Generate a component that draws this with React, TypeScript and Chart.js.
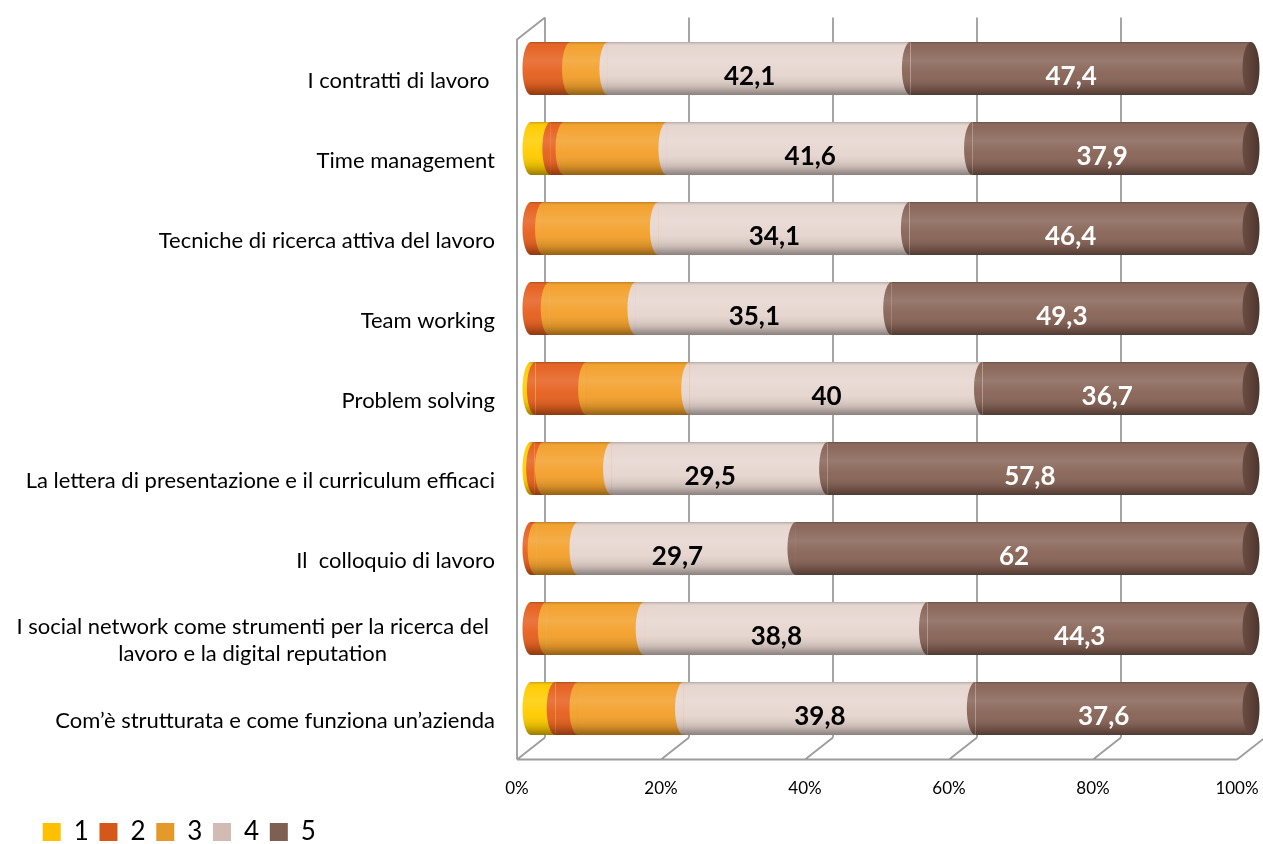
import React, { useEffect, useRef } from "react";
import { Chart, registerables } from "chart.js";

Chart.register(...registerables);

// ---------- data ----------
const categories: (string | string[])[] = [
  "I contratti di lavoro ",
  "Time management",
  "Tecniche di ricerca attiva del lavoro",
  "Team working",
  "Problem solving",
  "La lettera di presentazione e il curriculum efficaci",
  "Il  colloquio di lavoro",
  ["I social network come strumenti per la ricerca del", "lavoro e la digital reputation"],
  "Com’è strutturata e come funziona un’azienda",
];
const seriesNames = ["1", "2", "3", "4", "5"];
const score1 = [0, 2.7, 0, 0, 0.6, 0.5, 0, 0, 3.3];
const score2 = [5.5, 1.8, 1.7, 2.5, 7.0, 1.2, 0.7, 2.1, 3.1];
const score3 = [5.2, 14.0, 15.6, 11.9, 14.1, 9.3, 5.7, 13.4, 14.4];
const score4 = [42.1, 41.6, 34.1, 35.1, 40, 29.5, 29.7, 38.8, 39.8];
const score5 = [47.4, 37.9, 46.4, 49.3, 36.7, 57.8, 62, 44.3, 37.6];
const xTicks = [0, 20, 40, 60, 80, 100];
const labelledSeries = [3, 4];

// ---------- styles ----------
const barColors = ["#FFCC00", "#E6601F", "#F3A02A", "#E6D5CF", "#886457"];
const legendColors = ["#FFC000", "#D5581A", "#E39A2A", "#D1BBB3", "#7F5F52"];
const labelColors: Record<number, string> = { 3: "#000000", 4: "#FFFFFF" };
const FONT = "Lato";
const DX = 14; // 3D depth offset (x)
const DY = 11; // 3D depth offset (y)
const RX = 8.5; // cylinder cap radius

const fmt = (v: number) => String(v).replace(".", ",");

const frame3d = {
  id: "frame3d",
  beforeDatasetsDraw(chart: any) {
    const { ctx, chartArea } = chart;
    const { top, bottom } = chartArea;
    const x = chart.scales.x;
    const p0 = x.getPixelForValue(0);
    const p100 = x.getPixelForValue(100);
    ctx.save();
    ctx.strokeStyle = "#9C9C9C";
    ctx.lineWidth = 1.8;
    ctx.beginPath();
    xTicks.forEach((v) => {
      const p = x.getPixelForValue(v);
      ctx.moveTo(p + DX, top - DY);
      ctx.lineTo(p + DX, bottom - DY);
      ctx.moveTo(p - DX, bottom + DY);
      ctx.lineTo(p + DX, bottom - DY);
    });
    ctx.moveTo(p0 - DX, bottom + DY);
    ctx.lineTo(p100 - DX, bottom + DY);
    ctx.moveTo(p0 - DX, bottom + DY);
    ctx.lineTo(p0 - DX, top + DY);
    ctx.lineTo(p0 + DX, top - DY);
    ctx.stroke();
    ctx.restore();
  },
};

const cylinders = {
  id: "cylinders",
  afterDatasetsDraw(chart: any) {
    const { ctx } = chart;
    const x = chart.scales.x;
    const p0 = x.getPixelForValue(0);
    const p100 = x.getPixelForValue(100);
    const metas = chart.data.datasets.map((_: any, k: number) => chart.getDatasetMeta(k));
    const n = chart.data.labels.length;
    for (let i = 0; i < n; i++) {
      const el0 = metas[0].data[i];
      const yc = el0.y;
      const ry = el0.height / 2;
      ctx.save();
      // curved segment boundaries
      for (let k = 0; k < metas.length; k++) {
        const el = metas[k].data[i];
        const left = Math.min(el.x, el.base);
        const right = Math.max(el.x, el.base);
        if (right - left < 0.3) continue;
        ctx.fillStyle = barColors[k];
        ctx.beginPath();
        ctx.ellipse(left, yc, RX, ry, 0, Math.PI / 2, Math.PI * 1.5);
        ctx.closePath();
        ctx.fill();
      }
      // cylinder shading
      ctx.beginPath();
      ctx.ellipse(p0, yc, RX, ry, 0, Math.PI / 2, Math.PI * 1.5);
      ctx.lineTo(p100, yc - ry);
      ctx.ellipse(p100, yc, RX, ry, 0, -Math.PI / 2, Math.PI / 2);
      ctx.closePath();
      const g = ctx.createLinearGradient(0, yc - ry, 0, yc + ry);
      g.addColorStop(0, "rgba(0,0,0,0.22)");
      g.addColorStop(0.08, "rgba(255,255,255,0.02)");
      g.addColorStop(0.35, "rgba(255,255,255,0.14)");
      g.addColorStop(0.6, "rgba(255,255,255,0.03)");
      g.addColorStop(0.85, "rgba(0,0,0,0.14)");
      g.addColorStop(1, "rgba(0,0,0,0.40)");
      ctx.fillStyle = g;
      ctx.fill();
      // end cap
      ctx.beginPath();
      ctx.ellipse(p100, yc, RX, ry, 0, 0, Math.PI * 2);
      const gc = ctx.createLinearGradient(p100 - RX, 0, p100 + RX, 0);
      gc.addColorStop(0, "#6A4D42");
      gc.addColorStop(1, "#4E362D");
      ctx.fillStyle = gc;
      ctx.fill();
      ctx.restore();
    }
    // data labels
    ctx.save();
    ctx.font = `bold 26px ${FONT}`;
    ctx.textAlign = "center";
    ctx.textBaseline = "middle";
    labelledSeries.forEach((k) => {
      const ds = chart.data.datasets[k];
      metas[k].data.forEach((el: any, i: number) => {
        ctx.fillStyle = labelColors[k];
        const cx = (el.x + el.base) / 2 - 9.5;
        ctx.fillText(fmt(ds.raw[i]), cx, el.y + 8);
      });
    });
    ctx.restore();
  },
};

const categoryLabels = {
  id: "categoryLabels",
  afterDraw(chart: any) {
    const { ctx, chartArea } = chart;
    const y = chart.scales.y;
    const right = chartArea.left - 36;
    const lineH = 27;
    ctx.save();
    ctx.font = `22px ${FONT}`;
    ctx.fillStyle = "#000000";
    ctx.textBaseline = "middle";
    (chart.data.labels as (string | string[])[]).forEach((lab, i) => {
      const yc = y.getPixelForValue(i) + 12;
      const lines = Array.isArray(lab) ? lab : [lab];
      if (lines.length === 1) {
        ctx.textAlign = "right";
        ctx.fillText(lines[0], right, yc);
      } else {
        const widest = Math.max(...lines.map((l) => ctx.measureText(l).width));
        ctx.textAlign = "center";
        const y0 = yc - ((lines.length - 1) * lineH) / 2;
        lines.forEach((l, j) => ctx.fillText(l, right - 6 - widest / 2, y0 + j * lineH));
      }
    });
    ctx.restore();
  },
};

export default function App() {
  const ref = useRef<HTMLCanvasElement | null>(null);
  useEffect(() => {
    if (!ref.current) return;
    const raw = [score1, score2, score3, score4, score5];
    const totals = categories.map((_, i) => raw.reduce((s, a) => s + a[i], 0));
    const chart = new Chart(ref.current, {
      type: "bar",
      data: {
        labels: categories as any,
        datasets: raw.map((arr, k) => ({
          label: seriesNames[k],
          data: arr.map((v, i) => (v / totals[i]) * 100),
          raw: arr,
          backgroundColor: barColors[k],
          borderWidth: 0,
          barPercentage: 0.6625,
          categoryPercentage: 1,
        })) as any,
      },
      options: {
        indexAxis: "y",
        responsive: false,
        animation: false,
        layout: { padding: { left: 32, right: 12, top: 28.5, bottom: -11 } },
        scales: {
          x: {
            stacked: true,
            min: 0,
            max: 100,
            afterBuildTicks: (s: any) => {
              s.ticks = xTicks.map((v) => ({ value: v }));
            },
            ticks: {
              callback: (v: any) => v + "%",
              labelOffset: -DX,
              padding: 30,
              color: "#000000",
              font: { family: FONT, size: 17 },
              maxRotation: 0,
            },
            grid: { display: false, drawTicks: false },
            border: { display: false },
            afterFit: (s: any) => {
              s.height = 59.8;
              s.paddingLeft = 0;
              s.paddingRight = 0;
            },
          },
          y: {
            stacked: true,
            grid: { display: false, drawTicks: false },
            border: { display: false },
            ticks: { display: false },
            afterFit: (s: any) => {
              s.width = 499;
              s.paddingTop = 0;
              s.paddingBottom = 0;
            },
          },
        },
        plugins: {
          tooltip: { enabled: false },
          legend: {
            position: "bottom",
            align: "start",
            labels: {
              boxWidth: 18,
              boxHeight: 18,
              padding: 10.7,
              color: "#000000",
              font: { family: FONT, size: 26 },
              generateLabels: (c: any) => {
                const items = (Chart.defaults.plugins.legend.labels as any).generateLabels(c);
                items.forEach((it: any, i: number) => {
                  it.fillStyle = legendColors[i];
                  it.strokeStyle = legendColors[i];
                  it.lineWidth = 0;
                });
                return items;
              },
            },
          },
        },
      } as any,
      plugins: [frame3d, cylinders, categoryLabels],
    });
    return () => chart.destroy();
  }, []);
  return (
    <div style={{ position: "absolute", left: 0, top: 0, width: 1263, height: 844, background: "#fff" }}>
      <canvas ref={ref} width={1263} height={844} style={{ display: "block" }} />
    </div>
  );
}
